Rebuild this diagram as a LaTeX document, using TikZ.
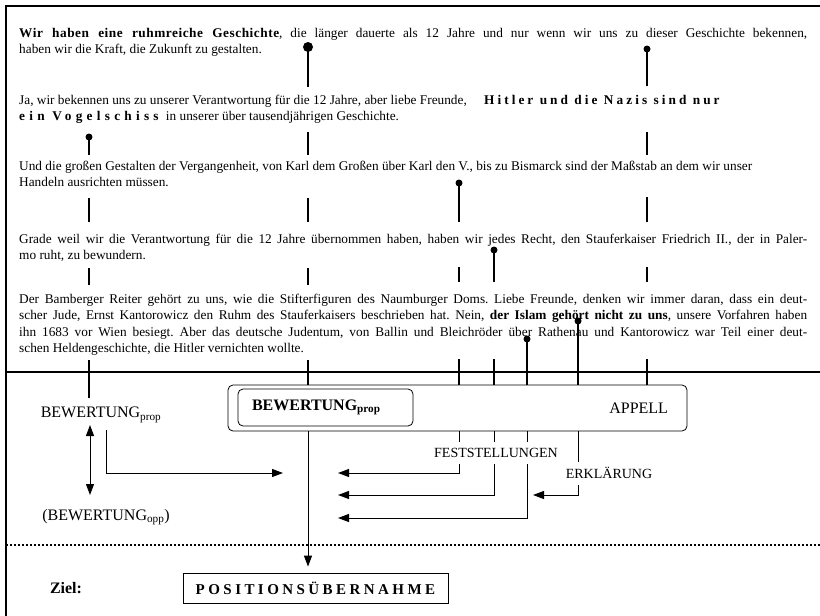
\documentclass[tikz,border=0pt]{standalone}
\usepackage{fontspec}
\setmainfont{Liberation Serif}
\newfontfamily\gesperrt{Liberation Serif}[LetterSpace=4]
\newfontfamily\gesperrtweit{Liberation Serif}[LetterSpace=23]
\newfontfamily\gesperrtvogel{Liberation Serif}[LetterSpace=32]
\newfontfamily\gesperrtziel{Liberation Serif}[LetterSpace=23]
\usetikzlibrary{arrows.meta,calc}

\begin{document}
\begin{tikzpicture}[x=1pt,y=-1pt,
  absatz/.style={anchor=north west,inner sep=0pt,text width=788pt,align=justify,
    font=\fontsize{13.3}{16.5}\selectfont\frenchspacing\sloppy},
  stift/.style={line width=1.5pt},
  kopf/.style={circle,fill=black,inner sep=0pt,minimum size=7pt},
  etikett/.style={inner sep=1pt,font=\fontsize{16}{18}\selectfont},
  klein/.style={inner sep=1pt,font=\fontsize{14}{16}\selectfont},
  kasten/.style={draw,line width=0.8pt,rounded corners=5pt,font=\fontsize{16}{18}\selectfont},
  spitze/.tip={Triangle[length=11pt,width=8pt]},
  pfeil/.style={line width=1pt,-spitze}]
\useasboundingbox (0,0) rectangle (820,616);
% Rahmen
\draw[line width=1.5pt] (6,616) -- (6,6) -- (820,6);
\draw[line width=1.5pt] (6,372) -- (820,372);
\draw[line width=1.5pt,dash pattern=on 2pt off 2pt] (6,545) -- (820,545);

% Text
\node[absatz] (p1) at (19,25.5) {\strut{\gesperrt\bfseries Wir haben eine ruhmreiche Geschichte}, die länger dauerte als 12 Jahre und nur wenn wir uns zu dieser Geschichte bekennen,\linebreak
  haben wir die Kraft, die Zukunft zu gestalten.};
\node[absatz] (p2) at (19,92.5) {\strut Ja, wir bekennen uns zu unserer Verantwortung für die 12 Jahre, aber liebe Freunde,\hspace{14pt} {\gesperrtweit\bfseries Hitler und die Nazis sind nur}\newline
  {\gesperrtvogel\bfseries ein Vogelschiss}\hspace{4pt} in unserer über tausendjährigen Geschichte.};
\node[absatz] (p3) at (19,158.5) {\strut Und die großen Gestalten der Vergangenheit, von Karl dem Großen über Karl den V., bis zu Bismarck sind der Maßstab an dem wir unser\newline
  Handeln ausrichten müssen.};
\node[absatz] (p4) at (19,231.5) {\strut Grade weil wir die Verantwortung für die 12 Jahre übernommen haben, haben wir jedes Recht, den Stauferkaiser Friedrich II., der in Paler-\linebreak
  mo ruht, zu bewundern.};
\node[absatz] (p5) at (19,291.5) {\strut Der Bamberger Reiter gehört zu uns, wie die Stifterfiguren des Naumburger Doms. Liebe Freunde, denken wir immer daran, dass ein deut-\linebreak
  scher Jude, Ernst Kantorowicz den Ruhm des Stauferkaisers beschrieben hat. Nein, \textbf{der Islam gehört nicht zu uns}, unsere Vorfahren haben\linebreak
  ihn 1683 vor Wien besiegt. Aber das deutsche Judentum, von Ballin und Bleichröder über Rathenau und Kantorowicz war Teil einer deut-\linebreak
  schen Heldengeschichte, die Hitler vernichten wollte.};

% Stifte
\node[kopf] (kA) at (89,137) {};
\node[kopf,minimum size=10pt] (kB) at (308,47) {};
\node[kopf] (kC) at (459,183) {};
\node[kopf] (kD) at (494,250) {};
\node[kopf] (kE) at (527,339) {};
\node[kopf] (kF) at (578,321) {};
\node[kopf] (kG) at (647,49) {};
\foreach \x/\a/\b in {89/137/155, 89/198/222, 89/268/285, 89/360/398,
    308/47/87, 308/132/155, 308/198/222, 308/268/285, 308/360/385,
    459/183/222, 459/267/282, 459/359/385,
    494/250/282, 494/359/385,
    527/339/385, 578/321/385,
    647/49/86, 647/132/155, 647/197/222, 647/267/282, 647/359/385}
  \draw[stift] (\x,\a) -- (\x,\b);

% Kaesten
\node[kasten,minimum height=46pt,text width=421pt,inner xsep=19pt,align=right] (appell) at (457.5,408) {APPELL};
\node[kasten,minimum height=37pt,text width=147pt,inner xsep=14pt,align=left,font=\fontsize{16}{18}\selectfont\bfseries] (bewprop) at (325.5,407.5) {BEWERTUNG\textsubscript{prop}};
\node[draw,line width=0.8pt,minimum width=265pt,minimum height=30pt,inner sep=0pt,font=\fontsize{15}{18}\selectfont] (pos) at (315.5,588) {\gesperrtziel\bfseries POSITIONSÜBERNAHME};

% Pfeile
\coordinate (fC) at (338,473);
\coordinate (fD) at (338,495);
\coordinate (fE) at (338,518);
\coordinate (fF) at (533,495);
\draw[pfeil,shorten >=6pt] (appell.south -| kB) -- (pos.north -| kB);
\draw[pfeil] (appell.south -| kC) |- (fC);
\draw[pfeil] (appell.south -| kD) |- (fD);
\draw[pfeil] (appell.south -| kE) |- (fE);
\draw[pfeil] (appell.south -| kF) |- (fF);
\node[klein,fill=white,minimum height=22pt] (fest) at (496,453) {FESTSTELLUNGEN};
\node[klein,fill=white,minimum height=23pt] (erkl) at (609,473) {ERKLÄRUNG};

% links
\node[etikett] (bewL) at (101,415) {BEWERTUNG\textsubscript{prop}};
\node[etikett] (bewO) at (106,517) {(BEWERTUNG\textsubscript{opp})};
\coordinate (lA) at (106,430);
\coordinate (lZ) at (283,473);
\draw[pfeil] (lA) |- (lZ);
\coordinate (dO) at (90,425);
\coordinate (dU) at (90,495);
\draw[line width=1pt,spitze-spitze] (dO) -- (dU);

\node[etikett,font=\fontsize{16}{18}\selectfont\bfseries] (ziel) at (66,588) {Ziel:};
\end{tikzpicture}
\end{document}
